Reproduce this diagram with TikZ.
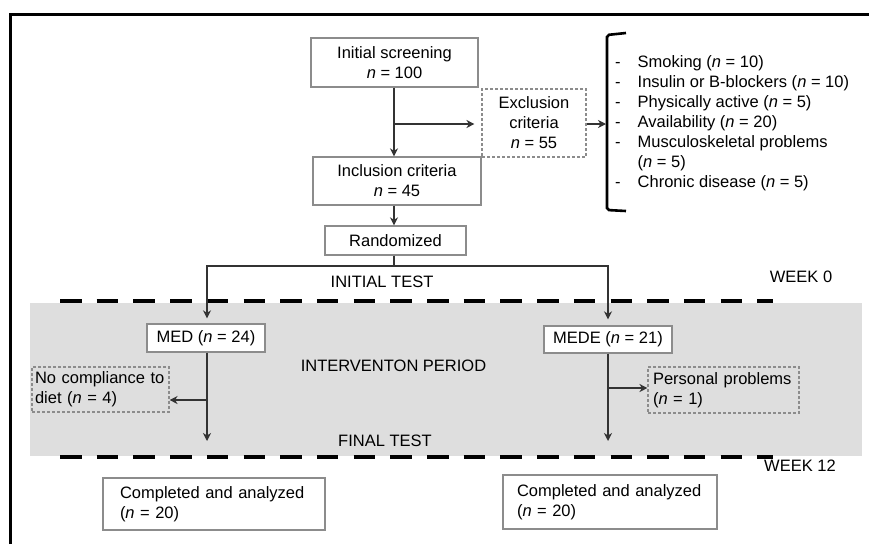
\documentclass[tikz,border=0pt]{standalone}
\usepackage{fontspec}
\setmainfont{Liberation Sans}
\usetikzlibrary{arrows.meta}
\hyphenpenalty=10000
\tikzset{
  stage/.style={draw=black!45, line width=1.3pt, fill=white, inner sep=2pt, align=center},
  dropout/.style={draw=black!45, line width=1.1pt, densely dashed, inner sep=3pt},
  flow/.style={draw=black!80, line width=1.8pt, -{Stealth[length=8pt,width=8pt,inset=2.5pt]}},
  phase/.style={line width=4pt, dash pattern=on 21.5pt off 15.2pt},
  caption/.style={inner sep=0pt}
}
\begin{document}
\begin{tikzpicture}[x=1pt, y=-1pt, font=\fontsize{16.5}{20}\selectfont]
\useasboundingbox (0,0) rectangle (869,544);
\draw[line width=3pt] (10,544) -- (10,14) -- (869,14);
\fill[black!13] (30,303) rectangle (862,456);
\draw[phase] (60,301) -- (773,301);
\draw[phase] (60,457) -- (773,457);

\node[stage, minimum width=167, minimum height=49] (screen) at (394.5,62.5) {Initial screening\\\textit{n} = 100};
\node[stage, dropout, fill=none, minimum width=104, minimum height=68] (excl) at (534,123) {Exclusion\\criteria\\\textit{n} = 55};
\node[stage, minimum width=168, minimum height=48] (incl) at (397,181) {Inclusion criteria\\\textit{n} = 45};
\node[stage, minimum width=141, minimum height=29] (rand) at (395.5,240.5) {Randomized};
\node[caption, anchor=west] (reasons) at (615,123) {%
  \begin{tabular}{@{}l@{\hspace{17pt}}l@{}}
  - & Smoking (\textit{n} = 10)\\
  - & Insulin or B-blockers (\textit{n} = 10)\\
  - & Physically active (\textit{n} = 5)\\
  - & Availability (\textit{n} = 20)\\
  - & Musculoskeletal problems\\
    & (\textit{n} = 5)\\
  - & Chronic disease (\textit{n} = 5)
  \end{tabular}};
\draw[line width=2.6pt, rounded corners=2pt] (626,33) -- (607,35) -- (607,210) -- (626,211);
\coordinate (bracket) at (607,124);

\node[caption] (initial) at (382,282) {INITIAL TEST};
\node[caption] (week0) at (801,277) {WEEK 0};
\node[caption] (period) at (393.5,366) {INTERVENTON PERIOD};
\node[caption] (final) at (385,441) {FINAL TEST};
\node[caption] (week12) at (800,466) {WEEK 12};

\node[stage, minimum width=118, minimum height=28] (med) at (206,338) {MED (\textit{n} = 24)};
\node[stage, minimum width=128, minimum height=27] (mede) at (608,339.5) {MEDE (\textit{n} = 21)};
\node[dropout, align=left, text width=131, inner xsep=3pt, minimum height=45] (nocomp) at (100.5,389.5) {No compliance to\\diet (\textit{n} = 4)};
\node[dropout, align=left, text width=141, inner xsep=5pt, minimum height=46] (personal) at (723.5,390) {Personal problems\\(\textit{n} = 1)};
\node[stage, align=left, text width=188, inner xsep=17pt, minimum height=52] (doneL) at (214,504) {Completed and analyzed\\(\textit{n} = 20)};
\node[stage, align=left, text width=186, inner xsep=14pt, minimum height=54] (doneR) at (610,502) {Completed and analyzed\\(\textit{n} = 20)};

\coordinate (exclfork) at (394,124);
\coordinate (medfork) at (207,400);
\coordinate (medefork) at (608,388);
\coordinate (medend) at (207,441);
\coordinate (medeend) at (608,441);

\draw[flow] (screen.south -| exclfork) -- (incl.north -| exclfork);
\draw[flow, shorten >=7pt] (exclfork) -- (excl.west |- exclfork);
\draw[flow, shorten >=1pt] (excl.east |- bracket) -- (bracket);
\draw[flow] (incl.south -| exclfork) -- (rand.north -| exclfork);
\draw[flow, shorten >=5pt] (rand.south -| exclfork) -- ++(0,10) -| (med.north -| medfork);
\draw[flow, shorten >=6pt] (rand.south -| exclfork) -- ++(0,10) -| (mede.north);
\draw[flow] (med.south -| medfork) -- (medend);
\draw[flow] (medfork) -- (nocomp.east |- medfork);
\draw[flow] (mede.south) -- (medeend);
\draw[flow] (medefork) -- (personal.west |- medefork);
\end{tikzpicture}
\end{document}
